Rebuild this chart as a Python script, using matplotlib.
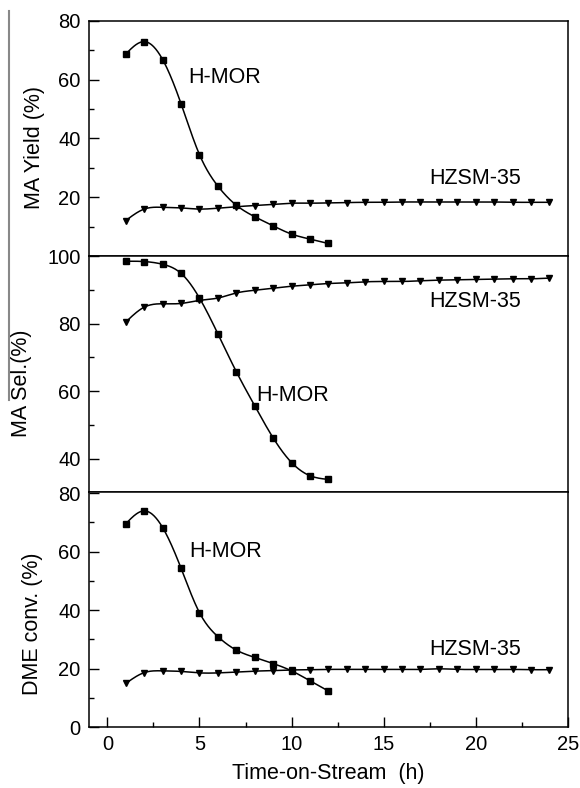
import numpy as np
import matplotlib
matplotlib.use("Agg")
import matplotlib.pyplot as plt
from matplotlib.lines import Line2D
from matplotlib.ticker import MultipleLocator

plt.rcParams['font.family'] = ['Liberation Sans', 'DejaVu Sans']

# time on stream (h)
hours_mor = [1, 2, 3, 4, 5, 6, 7, 8, 9, 10, 11, 12]
hours_zsm = [1, 2, 3, 4, 5, 6, 7, 8, 9, 10, 11, 12, 13, 14, 15, 16, 17, 18,
             19, 20, 21, 22, 23, 24]

# MA yield (%)
yield_mor = [68.7, 72.9, 66.8, 51.8, 34.5, 23.8, 17.3, 13.4, 10.3, 7.5, 5.8, 4.3]
yield_zsm = [12.1, 16.0, 16.6, 16.4, 16.0, 16.3, 16.8, 17.2, 17.6, 18.0, 18.0, 18.1,
             18.2, 18.3, 18.3, 18.4, 18.4, 18.4, 18.4, 18.4, 18.4, 18.3, 18.3, 18.3]

# MA selectivity (%)
sel_mor = [98.5, 98.4, 97.6, 94.9, 87.6, 77.0, 65.8, 55.7, 46.2, 38.9, 35.0, 33.9]
sel_zsm = [80.5, 84.9, 85.9, 86.0, 86.9, 87.6, 89.1, 89.9, 90.5, 91.1, 91.5, 91.9,
           92.1, 92.4, 92.5, 92.5, 92.7, 92.9, 93.0, 93.1, 93.2, 93.3, 93.3, 93.5]

# DME conversion (%)
conv_mor = [69.5, 73.9, 68.2, 54.3, 39.1, 30.9, 26.3, 23.8, 21.7, 19.2, 15.8, 12.3]
conv_zsm = [14.9, 18.6, 19.2, 19.0, 18.5, 18.5, 18.8, 19.1, 19.3, 19.5, 19.6, 19.7,
            19.7, 19.7, 19.7, 19.7, 19.7, 19.9, 19.7, 19.7, 19.7, 19.7, 19.6, 19.6]


def smooth(x, y, n=400):
    # natural cubic spline through the points, only used to draw the curve
    x = np.asarray(x, float)
    y = np.asarray(y, float)
    h = np.diff(x)
    m = len(x)
    A = np.zeros((m, m))
    r = np.zeros(m)
    A[0, 0] = A[-1, -1] = 1
    for i in range(1, m - 1):
        A[i, i - 1] = h[i - 1]
        A[i, i] = 2 * (h[i - 1] + h[i])
        A[i, i + 1] = h[i]
        r[i] = 3 * ((y[i + 1] - y[i]) / h[i] - (y[i] - y[i - 1]) / h[i - 1])
    c = np.linalg.solve(A, r)
    b = np.diff(y) / h - h * (2 * c[:-1] + c[1:]) / 3
    d = np.diff(c) / (3 * h)
    xs = np.linspace(x[0], x[-1], n)
    k = np.clip(np.searchsorted(x, xs) - 1, 0, m - 2)
    t = xs - x[k]
    return xs, y[k] + b[k] * t + c[k] * t ** 2 + d[k] * t ** 3


fig = plt.figure(figsize=(5.8, 7.88), dpi=100)
fig.subplots_adjust(left=0.1534, right=0.979, bottom=0.0774, top=0.9737, hspace=0)
axes = fig.subplots(3, 1, sharex=True)

panels = [
    (yield_mor, yield_zsm, 'MA Yield (%)', (0, 80), [20, 40, 60, 80],
     (4.4, 60.7), (17.45, 26.4), (-0.092, 0.463)),
    (sel_mor, sel_zsm, 'MA Sel.(%)', (30.3, 100), [40, 60, 80, 100],
     (8.1, 58.8), (17.45, 86.6), (-0.119, 0.46)),
    (conv_mor, conv_zsm, 'DME conv. (%)', (0, 80.5), [0, 20, 40, 60, 80],
     (4.45, 60.0), (17.45, 26.6), (-0.097, 0.437)),
]

for ax, (mor, zsm, lab, ylim, ticks, pos_mor, pos_zsm, labpos) in zip(axes, panels):
    xs, ys = smooth(hours_mor, mor)
    ax.plot(xs, ys, color='black', lw=1.1)
    ax.plot(hours_mor, mor, 's', color='black', ms=3.8)
    xs, ys = smooth(hours_zsm, zsm)
    ax.plot(xs, ys, color='black', lw=1.1)
    ax.plot(hours_zsm, zsm, 'v', color='black', ms=4.6)

    ax.text(pos_mor[0], pos_mor[1], 'H-MOR', fontsize=15.5, va='center')
    ax.text(pos_zsm[0], pos_zsm[1], 'HZSM-35', fontsize=15.5, va='center')

    ax.set_ylim(*ylim)
    ax.set_yticks(ticks)
    ax.yaxis.set_minor_locator(MultipleLocator(10))
    ax.set_ylabel(lab, fontsize=15.5)
    ax.yaxis.set_label_coords(*labpos)
    for s in ax.spines.values():
        s.set_linewidth(1.1)
    ax.tick_params(which='both', direction='in', width=1.0, labelsize=14.5, pad=6)
    ax.tick_params(which='major', length=7)
    ax.tick_params(which='minor', length=3.5)
    ax.tick_params(axis='x', which='both', bottom=False)

ax = axes[2]
ax.set_xlim(-1, 25)
ax.set_xticks([0, 5, 10, 15, 20, 25])
ax.xaxis.set_minor_locator(MultipleLocator(2.5))
ax.tick_params(axis='x', which='both', bottom=True)
ax.set_xlabel('Time-on-Stream  (h)', fontsize=15.5, labelpad=6)

# gray edge line left of the upper panels
fig.add_artist(Line2D([9 / 580, 9 / 580], [1 - 11 / 788, 1 - 400 / 788],
                      color='#888888', lw=1.5))

fig.savefig('out.png', dpi=100)
